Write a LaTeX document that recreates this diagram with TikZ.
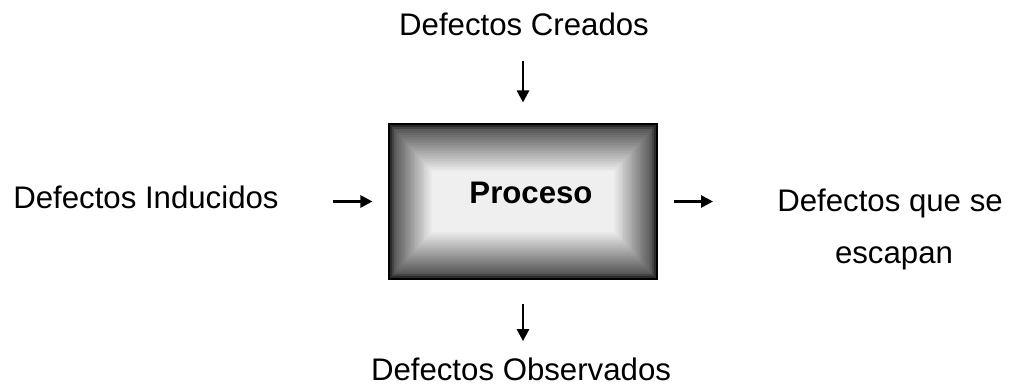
\documentclass[tikz,border=0pt]{standalone}
\usepackage{fontspec}
\setmainfont{Liberation Sans}
\usetikzlibrary{arrows.meta,backgrounds,calc}
\tikzset{
  txt/.style={inner sep=0pt, font=\fontsize{23.4}{28}\selectfont},
  arr/.style={line width=2pt, -{Triangle[length=9pt,width=9pt]}},
  procbox/.style={draw=black, line width=0.8pt, minimum width=201pt, minimum height=116.25pt, inner sep=0pt}
}
\begin{document}
\begin{tikzpicture}[x=0.75pt,y=-0.75pt]
\useasboundingbox (0,0) rectangle (1016,385);
\node[txt, anchor=base] (cre) at (524,36) {Defectos Creados};
\node[txt, anchor=base west] (ind) at (13,208) {Defectos Inducidos};
\node[txt, anchor=base west] (esc1) at (777,211) {Defectos que se};
\node[txt, anchor=base] (esc2) at (894,263) {escapan};
\node[txt, anchor=base] (obs) at (521,380) {Defectos Observados};
\node[procbox] (proc) at (523,201.5) {};
\begin{scope}[on background layer]
  \foreach \i in {0,...,24} {
    \pgfmathsetmacro{\c}{\i<3 ? 92-9*\i : 65-(\i-3)*2.8}
    \fill[black!\c] ([shift={(\i*1.8,\i*2.0)}]proc.north west) rectangle ([shift={(-\i*1.8,-\i*2.0)}]proc.south east);
  }
\end{scope}
\node[txt, font=\fontsize{23.4}{28}\selectfont\bfseries, anchor=base] (lbl) at (531,203) {Proceso};
\draw[arr, shorten <=40.5pt, shorten >=12pt] (ind.east |- proc.west) -- (proc.west);
\draw[arr, shorten <=12pt, shorten >=48pt] (proc.east) -- (esc1.west |- proc.east);
\draw[arr, shorten <=18pt, shorten >=15.75pt] (proc.north |- cre.south) -- (proc.north);
\draw[arr, shorten <=18pt, shorten >=12pt] (proc.south) -- (proc.south |- obs.north);
\end{tikzpicture}
\end{document}
